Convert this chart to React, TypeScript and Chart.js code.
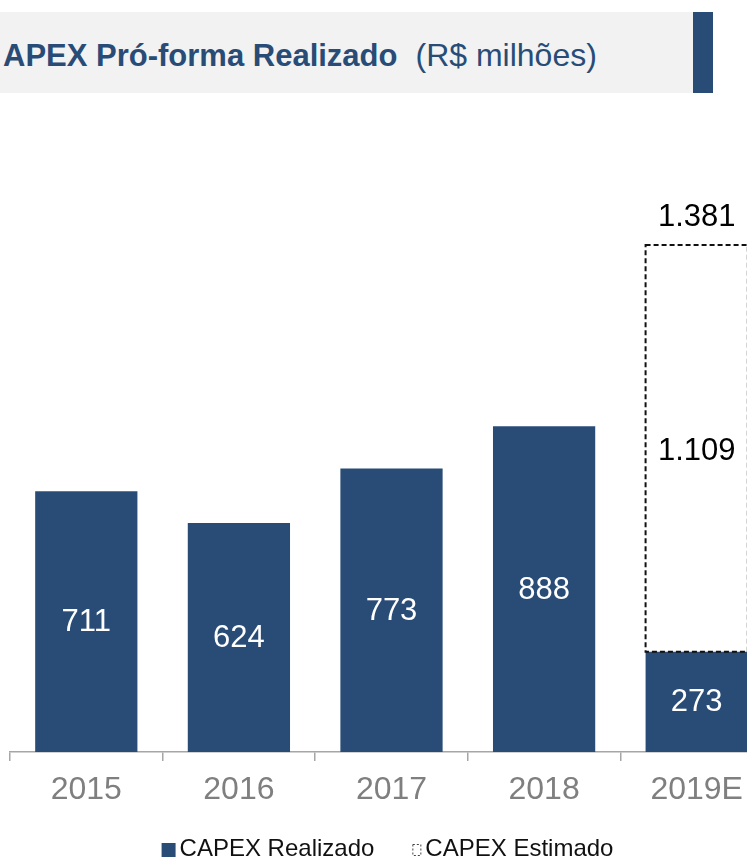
import React, { useEffect, useRef } from "react";
import { Chart, registerables } from "chart.js";

Chart.register(...registerables);

const categories = ["2015", "2016", "2017", "2018", "2019E"];
const realizado = [711, 624, 773, 888, 273];
const estimado: (number | null)[] = [null, null, null, null, 1109];
const totais: (number | null)[] = [null, null, null, null, 1381];
const seriesNames = ["CAPEX Realizado", "CAPEX Estimado"];
const titleBold = "APEX Pró-forma Realizado";
const titleNormal = "(R$ milhões)";
const yMax = 1600;

const FONT = '"Liberation Sans", Arial, Helvetica, sans-serif';
const BLUE = "#294c77";

function fmt(v: number): string {
  return String(v).replace(/\B(?=(\d{3})+(?!\d))/g, ".");
}

const overlayPlugin = {
  id: "overlay",
  afterDatasetsDraw(chart: any) {
    const ctx = chart.ctx;
    const m0 = chart.getDatasetMeta(0);
    const m1 = chart.getDatasetMeta(1);
    ctx.save();
    m1.data.forEach((el: any, i: number) => {
      const v = estimado[i];
      if (v == null) return;
      const p = el.getProps(["x", "y", "base", "width"], true);
      ctx.setLineDash([5, 3]);
      ctx.lineWidth = 2;
      ctx.strokeStyle = "#111";
      ctx.strokeRect(p.x - p.width / 2, p.y, p.width, p.base - p.y);
    });
    ctx.setLineDash([]);
    ctx.font = `31px ${FONT}`;
    ctx.textAlign = "center";
    ctx.textBaseline = "middle";
    m0.data.forEach((el: any, i: number) => {
      const p = el.getProps(["x", "y", "base"], true);
      ctx.fillStyle = "#ffffff";
      ctx.fillText(fmt(realizado[i]), p.x, (p.y + p.base) / 2 + 1);
    });
    m1.data.forEach((el: any, i: number) => {
      const v = estimado[i];
      if (v == null) return;
      const p = el.getProps(["x", "y", "base"], true);
      ctx.fillStyle = "#000000";
      ctx.fillText(fmt(v), p.x, (p.y + p.base) / 2 + 3);
      const t = totais[i];
      if (t != null) ctx.fillText(fmt(t), p.x, p.y - 28);
    });
    ctx.restore();
  },
  afterDraw(chart: any) {
    const ctx = chart.ctx;
    ctx.save();
    ctx.font = `24px ${FONT}`;
    ctx.textBaseline = "middle";
    ctx.textAlign = "left";
    const w1 = ctx.measureText(seriesNames[0]).width;
    const w2 = ctx.measureText(seriesNames[1]).width;
    const box = 14, gap1 = 4, icon = 9, gap2 = 4, itemGap = 38;
    const total = box + gap1 + w1 + itemGap + icon + gap2 + w2;
    let x = chart.width / 2 - total / 2;
    const y = chart.chartArea.bottom + 97;
    ctx.fillStyle = BLUE;
    ctx.fillRect(x, y - box / 2 + 1, box, box);
    x += box + gap1;
    ctx.fillStyle = "#111";
    ctx.fillText(seriesNames[0], x, y);
    x += w1 + itemGap;
    ctx.setLineDash([2, 2]);
    ctx.strokeStyle = "#444";
    ctx.lineWidth = 1;
    ctx.strokeRect(x + 0.5, y - 4.5, icon - 1, 11);
    ctx.setLineDash([]);
    x += icon + gap2;
    ctx.fillStyle = "#111";
    ctx.fillText(seriesNames[1], x, y);
    ctx.restore();
  },
};

export default function App() {
  const ref = useRef<HTMLCanvasElement | null>(null);

  useEffect(() => {
    document.body.style.margin = "0";
    const canvas = ref.current!;
    const chart = new Chart(canvas, {
      type: "bar",
      data: {
        labels: categories,
        datasets: [
          {
            label: seriesNames[0],
            data: realizado,
            backgroundColor: BLUE,
            borderWidth: 0,
            categoryPercentage: 1,
            barPercentage: 0.67,
          },
          {
            label: seriesNames[1],
            data: estimado as any,
            backgroundColor: "rgba(255,255,255,0)",
            borderWidth: 0,
            categoryPercentage: 1,
            barPercentage: 0.67,
          },
        ],
      },
      options: {
        responsive: false,
        animation: false,
        devicePixelRatio: 1,
        layout: { padding: { left: 10, right: 2, top: 25, bottom: 0 } },
        plugins: {
          legend: { display: false },
          tooltip: { enabled: false },
          title: { display: false },
        },
        scales: {
          x: {
            stacked: true,
            offset: true,
            grid: {
              display: true,
              offset: true,
              drawOnChartArea: false,
              drawTicks: true,
              tickLength: 9,
              color: "#a6a6a6",
              lineWidth: 1.5,
            },
            border: { display: true, color: "#a6a6a6", width: 1.5 },
            ticks: {
              color: "#7f7f7f",
              font: { size: 32, family: FONT },
              padding: 10,
              maxRotation: 0,
            },
            afterFit: (s: any) => {
              s.height = 120;
            },
          },
          y: {
            stacked: true,
            display: false,
            min: 0,
            max: yMax,
          },
        },
      },
      plugins: [overlayPlugin],
    });
    return () => chart.destroy();
  }, []);

  return (
    <div
      style={{
        position: "absolute",
        left: 0,
        top: 0,
        width: 747,
        height: 859,
        overflow: "hidden",
        background: "#ffffff",
        fontFamily: FONT,
      }}
    >
      <div
        style={{
          position: "absolute",
          left: 0,
          top: 12,
          width: 693,
          height: 81,
          background: "#f2f2f2",
        }}
      />
      <div
        style={{
          position: "absolute",
          left: 693,
          top: 12,
          width: 20,
          height: 81,
          background: BLUE,
        }}
      />
      <div
        style={{
          position: "absolute",
          left: 3,
          top: 40,
          lineHeight: "30px",
          color: BLUE,
          whiteSpace: "nowrap",
        }}
      >
        <span style={{ fontWeight: "bold", fontSize: 31 }}>{titleBold}</span>
        <span style={{ fontSize: 32, marginLeft: 18 }}>{titleNormal}</span>
      </div>
      <canvas
        ref={ref}
        width={775}
        height={732}
        style={{ position: "absolute", left: 0, top: 140, width: 775, height: 732 }}
      />
    </div>
  );
}
